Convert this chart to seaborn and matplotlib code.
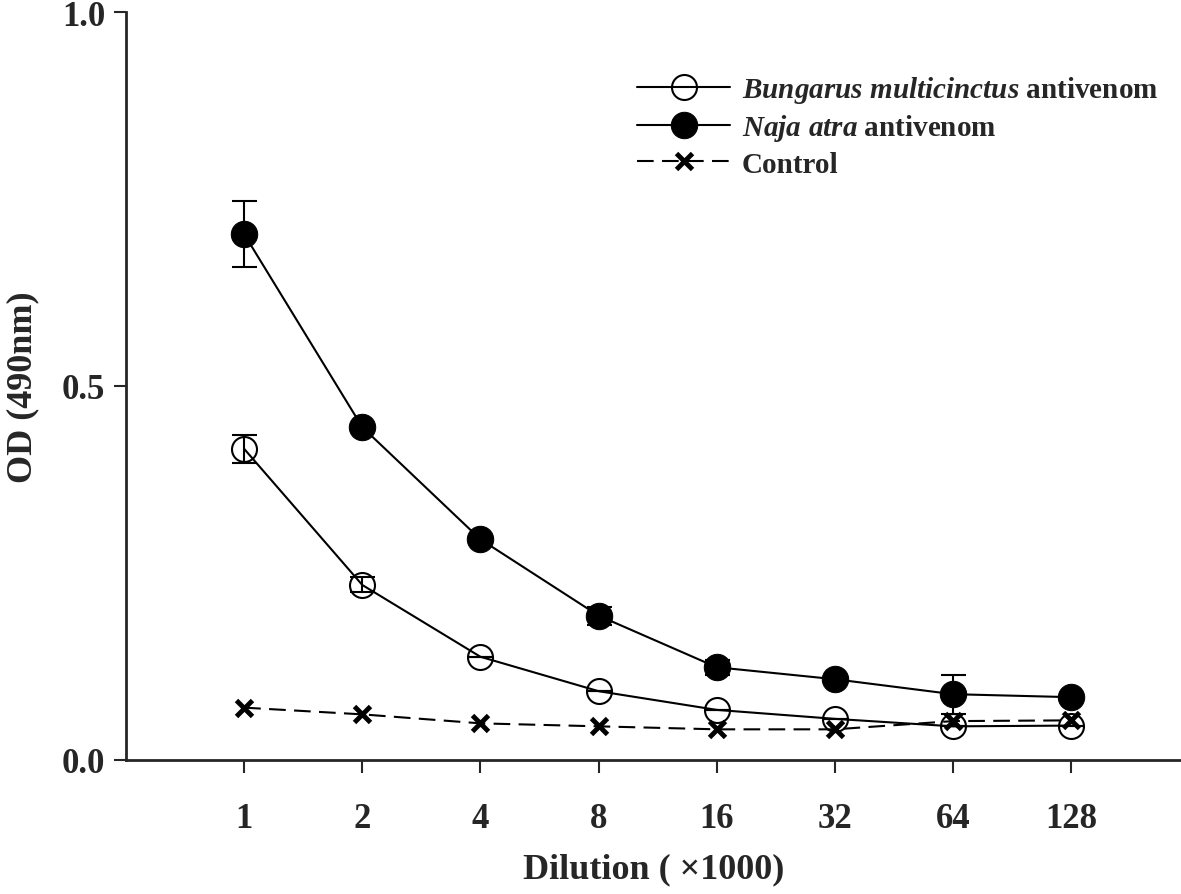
import matplotlib
matplotlib.use('Agg')
import matplotlib.pyplot as plt
import seaborn as sns
import numpy as np
import pandas as pd

# data
dilutions = ['1', '2', '4', '8', '16', '32', '64', '128']
naja = [0.703, 0.445, 0.295, 0.193, 0.124, 0.108, 0.088, 0.084]
naja_err = [0.044, 0.0, 0.0, 0.012, 0.010, 0.0, 0.026, 0.0]
bungarus = [0.416, 0.234, 0.138, 0.092, 0.067, 0.055, 0.045, 0.046]
bungarus_err = [0.019, 0.010, 0.0, 0.0, 0.0, 0.0, 0.0, 0.0]
control = [0.070, 0.061, 0.049, 0.045, 0.041, 0.041, 0.052, 0.053]

sns.set_style('ticks')
plt.rcParams['font.family'] = ['Liberation Serif', 'DejaVu Serif']
plt.rcParams['font.weight'] = 'bold'
plt.rcParams['mathtext.fontset'] = 'custom'
plt.rcParams['mathtext.it'] = 'Liberation Serif:style=italic:weight=bold'
plt.rcParams['mathtext.rm'] = 'Liberation Serif:weight=bold'

pos = np.arange(len(dilutions))
df = pd.DataFrame({'pos': pos, 'naja': naja, 'bungarus': bungarus, 'control': control})

fig = plt.figure(figsize=(11.81, 8.95), dpi=100)
ax = fig.add_axes([126 / 1181, 134 / 895, 1 - 126 / 1181, (761 - 13) / 895])

sns.lineplot(data=df, x='pos', y='bungarus', ax=ax, color='black', lw=1.5,
             marker='o', markersize=18, markerfacecolor='none', markeredgecolor='black',
             markeredgewidth=1.5, label=r'$\mathit{Bungarus\ multicinctus}$ antivenom')
sns.lineplot(data=df, x='pos', y='naja', ax=ax, color='black', lw=1.5,
             marker='o', markersize=19, markerfacecolor='black', markeredgecolor='black',
             label=r'$\mathit{Naja\ atra}$ antivenom')
sns.lineplot(data=df, x='pos', y='control', ax=ax, color='black', lw=1.5,
             linestyle=(0, (8, 4)), marker='x', markersize=11, markeredgewidth=3.5,
             markeredgecolor='black', label='Control')

ax.errorbar(pos, naja, yerr=naja_err, fmt='none', ecolor='black', elinewidth=1.5,
            capsize=9, capthick=1.5)
ax.errorbar(pos, bungarus, yerr=bungarus_err, fmt='none', ecolor='black', elinewidth=1.5,
            capsize=9, capthick=1.5)

ax.set_xlim(-1, 7.93)
ax.set_ylim(0, 1.0)
ax.set_xticks(pos)
ax.set_xticklabels(dilutions)
ax.set_yticks([0, 0.5, 1.0])
ax.set_yticklabels(['0.0', '0.5', '1.0'])
ax.tick_params(axis='both', labelsize=25, width=1.5, length=9, direction='out', pad=21)
ax.tick_params(axis='y', pad=6)
for s in ['left', 'bottom']:
    ax.spines[s].set_linewidth(2)
sns.despine(ax=ax)

ax.set_xlabel('Dilution ( \u00d71000)', fontsize=26, fontweight='bold', labelpad=13)
ax.set_ylabel('OD (490nm)', fontsize=26, fontweight='bold', labelpad=16)

leg = ax.legend(loc='upper left', bbox_to_anchor=(637 / 1181, 1 - 75 / 895),
                bbox_transform=fig.transFigure, frameon=False, fontsize=21,
                handlelength=3.2, handletextpad=0.4, labelspacing=0.25, borderpad=0,
                borderaxespad=0)

fig.savefig('out.png', dpi=100)
